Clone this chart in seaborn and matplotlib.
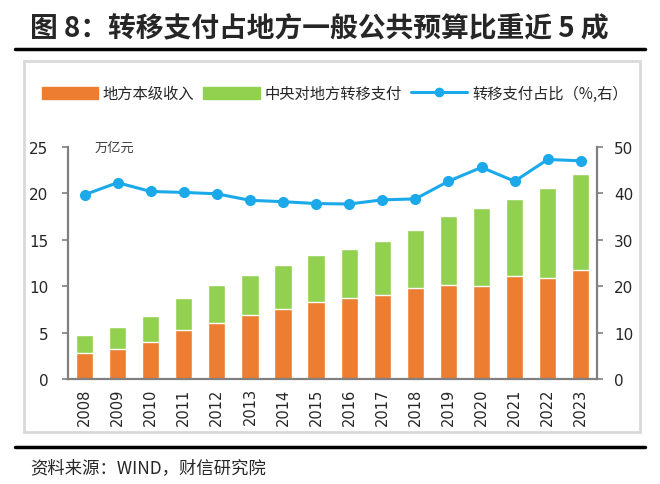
import numpy as np
import pandas as pd
import seaborn as sns
import matplotlib.pyplot as plt
from matplotlib.patches import Rectangle
from matplotlib.lines import Line2D
from matplotlib.patches import Patch

# data
years = ["2008", "2009", "2010", "2011", "2012", "2013", "2014", "2015",
         "2016", "2017", "2018", "2019", "2020", "2021", "2022", "2023"]
local_rev = [2.81, 3.25, 4.00, 5.23, 6.06, 6.88, 7.53, 8.33,
             8.70, 9.09, 9.78, 10.14, 10.03, 11.08, 10.90, 11.69]
total = [4.69, 5.59, 6.82, 8.72, 10.13, 11.18, 12.26, 13.34,
         14.00, 14.86, 16.02, 17.57, 18.40, 19.37, 20.60, 22.08]
share = [39.7, 42.3, 40.4, 40.2, 39.9, 38.5, 38.2, 37.8,
         37.7, 38.6, 38.8, 42.6, 45.6, 42.6, 47.3, 47.0]

sns.set_style("white")
plt.rcParams['font.family'] = ['Noto Sans CJK SC', 'DejaVu Sans']

ORANGE = "#ED7D31"
GREEN = "#92D050"
BLUE = "#1BA9EA"
GREY = "#808080"

df = pd.DataFrame({"year": years, "local": local_rev, "total": total, "share": share})
df["pos"] = np.arange(len(years))

fig = plt.figure(figsize=(6.6, 4.85), dpi=100)
ax = fig.add_axes([0.103, 0.2165, 0.802, 0.4785])

sns.barplot(data=df, x="year", y="total", color=GREEN, width=0.52,
            saturation=1, ax=ax)
sns.barplot(data=df, x="year", y="local", color=ORANGE, width=0.52,
            saturation=1, ax=ax)
ax.set_xlim(-0.5, len(years) - 0.5)
ax.set_ylim(0, 25)
ax.set_yticks([0, 5, 10, 15, 20, 25])
ax.set_xlabel("")
ax.set_ylabel("")

ax2 = ax.twinx()
sns.lineplot(data=df, x="pos", y="share", color=BLUE, lw=2.2, marker="o",
             markersize=8, markeredgewidth=0, ax=ax2)
ax2.set_ylim(0, 50)
ax2.set_yticks([0, 10, 20, 30, 40, 50])
ax2.set_xlim(-0.5, len(years) - 0.5)
ax2.set_ylabel("")
ax2.set_xlabel("")

for a in (ax, ax2):
    for s in a.spines.values():
        s.set_visible(False)
ax.spines["left"].set_visible(True)
ax.spines["bottom"].set_visible(True)
ax2.spines["right"].set_visible(True)
for s in (ax.spines["left"], ax.spines["bottom"], ax2.spines["right"]):
    s.set_color(GREY)
    s.set_linewidth(1.6)

ax.set_xticks(np.arange(len(years)))
ax.set_xticklabels(years, rotation=90, fontsize=10.5, family="DejaVu Sans")
ax.set_xticks(np.arange(len(years) + 1) - 0.5, minor=True)
ax.tick_params(axis="x", which="major", length=0, pad=6)
ax.tick_params(axis="x", which="minor", length=4, width=1.2, color=GREY, direction="out")
ax.tick_params(axis="y", length=4, width=1.2, color=GREY, direction="out",
               labelsize=11, pad=10)
ax2.tick_params(axis="y", length=4, width=1.2, color=GREY, direction="out",
                labelsize=11, pad=8)
for lab in ax.get_yticklabels() + ax2.get_yticklabels():
    lab.set_family("DejaVu Sans")

ax.text(0.05, 1.0, "万亿元", transform=ax.transAxes, fontsize=9.5,
        color="#404040", va="center", ha="left")

# legend
handles = [Patch(color=ORANGE, label="地方本级收入"),
           Patch(color=GREEN, label="中央对地方转移支付"),
           Line2D([0], [0], color=BLUE, lw=2.2, marker="o", markersize=6,
                  label="转移支付占比（%,右）")]
fig.legend(handles=handles, loc="center", bbox_to_anchor=(0.507, 0.805), ncol=3,
           frameon=False, fontsize=11, handlelength=3.7, handleheight=0.8,
           columnspacing=0.6, handletextpad=0.3)

# chart frame, title, rules, source
fig.add_artist(Rectangle((0.036, 0.107), 0.934, 0.765, transform=fig.transFigure,
                         fill=False, edgecolor="#D9D9D9", lw=2))
fig.text(0.045, 0.94, "图 8：转移支付占地方一般公共预算比重近 5 成",
         fontsize=20, fontweight="bold", va="center", ha="left")
fig.add_artist(Line2D([0.023, 0.977], [0.897, 0.897], transform=fig.transFigure,
                      color="black", lw=2.5))
fig.add_artist(Line2D([0.023, 0.977], [0.077, 0.077], transform=fig.transFigure,
                      color="black", lw=2.5))
fig.text(0.045, 0.035, "资料来源：WIND，财信研究院", fontsize=12.5,
         style="italic", va="center", ha="left")

fig.savefig("out.png", dpi=100)
